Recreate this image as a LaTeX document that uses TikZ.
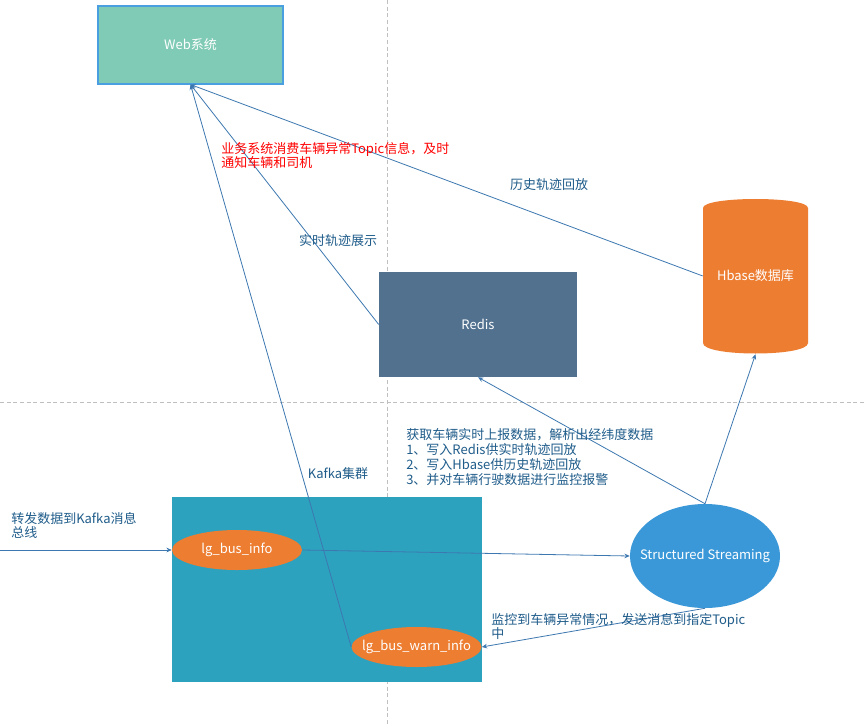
\documentclass[tikz,border=0pt]{standalone}
\usepackage{fontspec}
\setmainfont{Noto Sans CJK SC}
\usetikzlibrary{arrows.meta,shapes.geometric}
\definecolor{webfill}{HTML}{80CBB5}
\definecolor{webdraw}{HTML}{4A9FE0}
\definecolor{redisfill}{HTML}{51718F}
\definecolor{orng}{HTML}{ED7D31}
\definecolor{kafkafill}{HTML}{2DA2BF}
\definecolor{ssfill}{HTML}{3A98D8}
\definecolor{linec}{HTML}{3D78B0}
\definecolor{txtc}{HTML}{1F5C8A}
\definecolor{gridc}{HTML}{BFBFBF}
\tikzset{
  every node/.style={font=\fontsize{9.75pt}{11.1pt}\selectfont, inner sep=0pt},
  box/.style={rectangle, text=white},
  ell/.style={ellipse, fill=orng, text=white, minimum width=97.5pt, minimum height=30pt},
  conn/.style={draw=linec, line width=0.6pt, -{Stealth[length=4pt,width=3.5pt]}},
  lbl/.style={text=txtc, align=left, anchor=west},
  guide/.style={draw=gridc, line width=0.6pt, dash pattern=on 3pt off 2pt}
}
\begin{document}
\begin{tikzpicture}[x=0.75pt,y=-0.75pt]
\useasboundingbox (0,0) rectangle (866,727);
\fill[white] (0,0) rectangle (866,727);
% guides
\draw[guide] (387,0) -- (387,727);
\draw[guide] (0,402) -- (866,402);
% nodes
\node[box, fill=webfill, draw=webdraw, line width=0.8pt, minimum width=138.75pt, minimum height=58.5pt] (web) at (190.5,45) {Web系统};
\node[box, fill=redisfill, minimum width=148.5pt, minimum height=78.75pt] (redis) at (478,324.5) {Redis};
\fill[orng] (703,208) .. controls (703,196) and (808,196) .. (808,208) -- (808,343) .. controls (808,357) and (703,357) .. (703,343) -- cycle;
\node[box, minimum width=78.75pt, minimum height=117pt] (hb) at (755.5,276) {Hbase数据库};
\node[box, fill=kafkafill, minimum width=232.5pt, minimum height=138.75pt] (kafka) at (327,589.5) {};
\node[ell] (bus) at (237,550) {\makebox[0pt]{lg\_bus\_info}};
\node[ell] (warn) at (416.5,647) {\makebox[0pt]{lg\_bus\_warn\_info}};
\node[ellipse, fill=ssfill, text=white, minimum width=112.5pt, minimum height=78pt] (ss) at (705,556) {\makebox[0pt]{Structured Streaming}};
\coordinate (src) at (0,550);
% connectors
\draw[conn] (src) -- (bus.west);
\draw[conn] (bus.east) -- (ss.west);
\draw[conn] (ss.north) -- (redis.south);
\draw[conn] (ss.north) -- (hb.south);
\draw[conn] (ss.south) -- (warn.east);
\draw[conn] (warn.west) -- (web.south);
\draw[conn] (redis.west) -- (web.south);
\draw[conn] (hb.west) -- (web.south);
% labels
\node[lbl, text=red] (l1) at (221,155.5) {业务系统消费车辆异常Topic信息，及时\\通知车辆和司机};
\node[text=txtc] (l2) at (549,185) {历史轨迹回放};
\node[text=txtc] (l3) at (338,241) {实时轨迹展示};
\node[lbl] (l4) at (406,457) {获取车辆实时上报数据，解析出经纬度数据\\1、写入Redis供实时轨迹回放\\2、写入Hbase供历史轨迹回放\\3、并对车辆行驶数据进行监控报警};
\node[text=txtc] (l5) at (338,474) {Kafka集群};
\node[lbl] (l6) at (11,525.5) {转发数据到Kafka消息\\总线};
\node[lbl] (l7) at (491,626.5) {监控到车辆异常情况，发送消息到指定Topic\\中};
\end{tikzpicture}
\end{document}
